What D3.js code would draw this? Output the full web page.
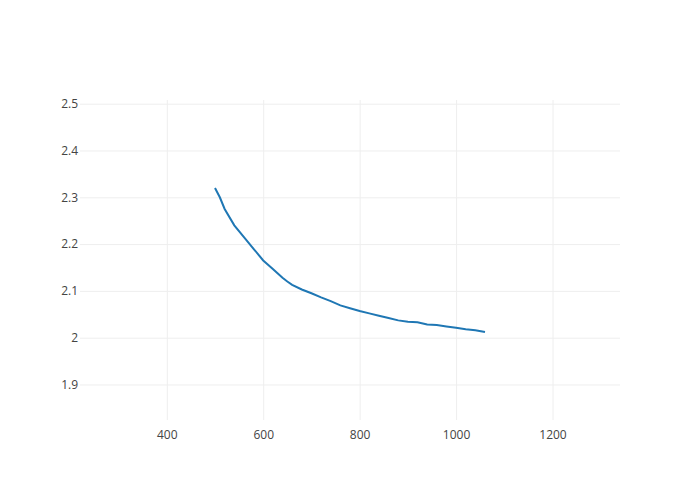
<!DOCTYPE html>
<html><head><meta charset="utf-8">
<script src="https://cdn.jsdelivr.net/npm/d3@7"></script>
<style>body{margin:0;background:#fff}text{font-family:"Open Sans",sans-serif}</style>
</head><body>
<svg id="c" width="700" height="500"></svg>
<script>
const xVals = [500,510,520,540,560,580,600,620,640,650,660,680,700,720,740,760,780,800,820,840,860,880,900,920,940,960,980,1000,1020,1040,1060];
const yVals = [2.32,2.30,2.275,2.24,2.215,2.19,2.165,2.147,2.128,2.12,2.113,2.103,2.095,2.086,2.078,2.069,2.063,2.057,2.052,2.047,2.042,2.037,2.034,2.033,2.028,2.027,2.024,2.021,2.018,2.016,2.012];
const xTicks = [400,600,800,1000,1200];
const yTicks = [1.9,2,2.1,2.2,2.3,2.4,2.5];

const svg = d3.select("#c");
const L=80,R=620,T=100,B=420;
const x = d3.scaleLinear().domain([220,1340]).range([L,R]);
const y = d3.scaleLinear().domain([1.8241,2.5079]).range([B,T]);

const gx = svg.append("g").attr("transform",`translate(0,${B})`)
  .call(d3.axisBottom(x).tickValues(xTicks).tickSize(-(B-T)).tickPadding(10).tickFormat(d3.format("d")));
const gy = svg.append("g").attr("transform",`translate(${L},0)`)
  .call(d3.axisLeft(y).tickValues(yTicks).tickSize(-(R-L)).tickPadding(2).tickFormat(d=>String(d)));
[gx,gy].forEach(g=>{
  g.select(".domain").remove();
  g.selectAll("line").attr("stroke","#eee").attr("stroke-width",1);
  g.selectAll("text").attr("fill","#444").style("font-size","12px").style("font-family","'Open Sans',sans-serif");
});

const data = xVals.map((v,i)=>[v,yVals[i]]);
svg.append("path").datum(data)
  .attr("fill","none").attr("stroke","#1f77b4").attr("stroke-width",2)
  .attr("d",d3.line().x(d=>x(d[0])).y(d=>y(d[1])));
</script>
</body></html>
